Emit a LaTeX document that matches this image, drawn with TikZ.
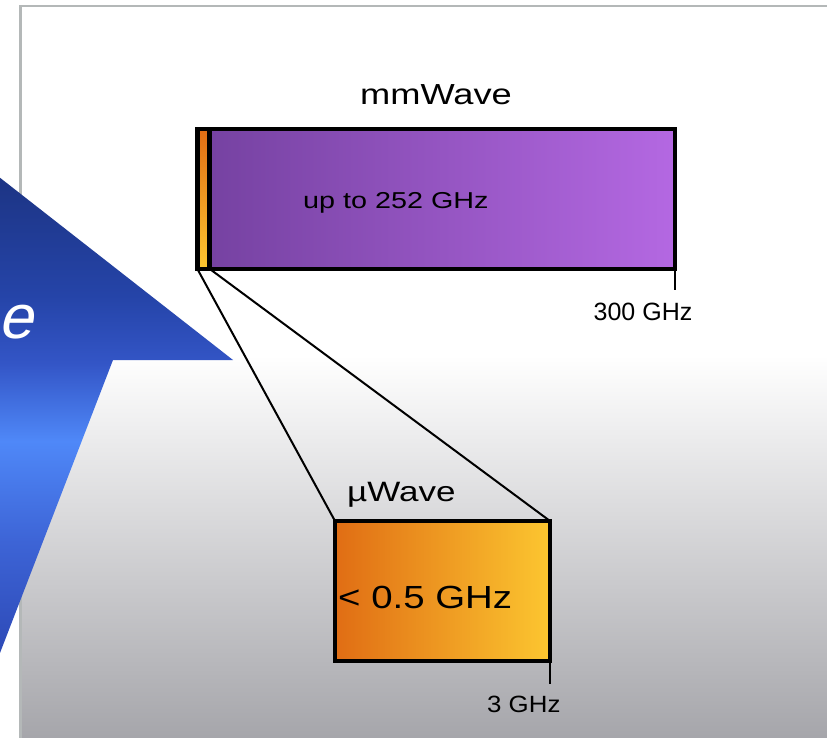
\documentclass[tikz,border=0pt]{standalone}
\usepackage{fontspec}
\setmainfont{Liberation Sans}
\newfontfamily\widefont[FakeStretch=1.25]{Liberation Sans}
\newfontfamily\midfont[FakeStretch=1.2]{Liberation Sans}
\newfontfamily\narrowfont[FakeStretch=1.1]{Liberation Sans}
\newfontfamily\slantfont[FakeSlant=0.22]{Liberation Sans}

\definecolor{mmleft}{HTML}{7441A0}
\definecolor{mmright}{HTML}{B468E2}
\definecolor{uleft}{HTML}{E06D14}
\definecolor{uright}{HTML}{FCC630}
\definecolor{arrowdark}{HTML}{1D3586}
\definecolor{arrowhead}{HTML}{2544A8}
\definecolor{arrowneck}{HTML}{3355C6}
\definecolor{arrowlight}{HTML}{4F88F8}
\definecolor{arrowshaft}{HTML}{3D64D6}
\definecolor{arrowlow}{HTML}{2A44B0}
\definecolor{panelgray}{HTML}{A4A4A9}
\definecolor{panelline}{HTML}{B4B8B8}

% bottom to top, path box runs from 25bp to 75bp
\pgfdeclareverticalshading{arrowshade}{100bp}{color(0bp)=(arrowlow); color(28bp)=(arrowlow);
    color(40bp)=(arrowshaft); color(49bp)=(arrowlight); color(56bp)=(arrowneck);
    color(62bp)=(arrowhead); color(72bp)=(arrowdark); color(100bp)=(arrowdark)}

\tikzset{
    band/.style={draw, line width=4.5pt, inner sep=0pt, outer sep=0pt, anchor=north west},
    lbl/.style={inner sep=0pt, anchor=base west},
    wire/.style={line width=2pt},
}

\begin{document}
\begin{tikzpicture}[x=1pt, y=1pt]
        \useasboundingbox (0,0) rectangle (827,-738);
        \clip (0,0) rectangle (827,-738);
        % panel
        \fill[white] (0,0) rectangle (827,-738);
        \fill[white] (20,-6) rectangle (840,-355);
        \shade[top color=white, bottom color=panelgray] (20,-355) rectangle (840,-745);
        \draw[panelline, line width=2.5pt] (20.5,-750) -- (20.5,-6) -- (840,-6);
        % blue arrow
        \shade[shading=arrowshade]
            (-24,-159) -- (233,-360) -- (113,-360) -- (-22,-710)
            -- (-60,-710) -- (-60,-150) -- cycle;
        \node[lbl, anchor=base east, text=white, font=\fontsize{62}{68}\slantfont] (arrowtext) at (33,-338) {e};
        % mmWave band
        \node[band, minimum width=477.5pt, minimum height=139.5pt,
            left color=mmleft, right color=mmright] (mmbar) at (197.25,-129.25) {};
        \node[band, minimum width=12.25pt, minimum height=139.5pt,
            top color=uleft, bottom color=uright] (sliver) at (197.25,-129.25) {};
        \node[lbl, anchor=base, font=\fontsize{29}{34}\widefont] (mmtitle) at (436,-105) {mmWave};
        \node[lbl, font=\fontsize{23}{28}\widefont] (mmrange) at (303,-208) {up to 252 GHz};
        \coordinate (mmtick) at (674.75,-290);
        \draw[line width=2.5pt] (mmbar.south east) -- (mmtick);
        \node[lbl, anchor=base, font=\fontsize{25}{30}\selectfont] (mmmax) at (643,-320) {300 GHz};
        % uWave box
        \node[band, line width=4pt, minimum width=215pt, minimum height=140pt,
            left color=uleft, right color=uright] (ubox) at (335,-521) {};
        \draw[wire] (sliver.south west) -- (ubox.north west);
        \draw[wire] (sliver.south east) -- (ubox.north east);
        \node[lbl, font=\fontsize{28}{33}\widefont] (utitle) at (347,-501) {µWave};
        \node[lbl, font=\fontsize{32}{38}\midfont] (urange) at (338,-608) {< 0.5 GHz};
        \coordinate (utick) at (550,-684);
        \draw[line width=2.5pt] (ubox.south east) -- (utick);
        \node[lbl, font=\fontsize{23.5}{28}\narrowfont] (umax) at (487,-712) {3 GHz};
    \end{tikzpicture}
\end{document}
